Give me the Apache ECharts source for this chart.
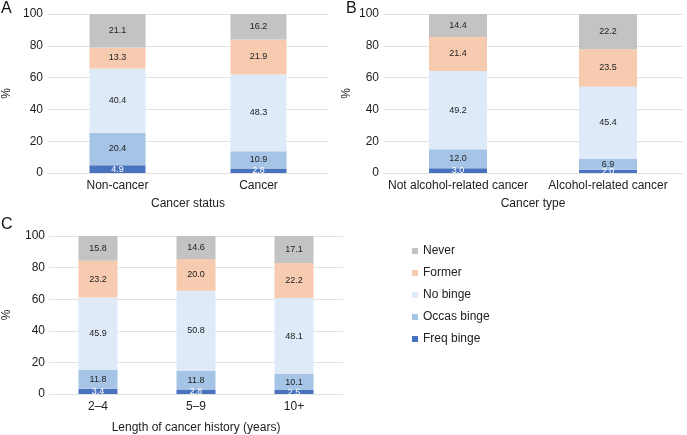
<!DOCTYPE html>
<html>
<head>
<meta charset="utf-8">
<script src="https://cdn.jsdelivr.net/npm/echarts@6/dist/echarts.min.js"></script>
<style>
html,body{margin:0;padding:0;background:#fff;}
#chart{width:687px;height:435px;}
</style>
</head>
<body>
<div id="chart"></div>
<script>
// categories per panel
var catsA = ['Non-cancer', 'Cancer'];
var catsB = ['Not alcohol-related cancer', 'Alcohol-related cancer'];
var catsC = ['2–4', '5–9', '10+'];
var yTicks = [0, 20, 40, 60, 80, 100];

var seriesNames = ['Freq binge', 'Occas binge', 'No binge', 'Former', 'Never'];
var seriesColors = ['#4a73bf', '#a6c4e5', '#deeaf8', '#f6cbb0', '#c3c3c3'];

// values (%), one array per drinking group, per panel
var freqA = [4.9, 2.8];
var occasA = [20.4, 10.9];
var noBingeA = [40.4, 48.3];
var formerA = [13.3, 21.9];
var neverA = [21.1, 16.2];

var freqB = [3.0, 2.0];
var occasB = [12.0, 6.9];
var noBingeB = [49.2, 45.4];
var formerB = [21.4, 23.5];
var neverB = [14.4, 22.2];

var freqC = [3.4, 2.8, 2.5];
var occasC = [11.8, 11.8, 10.1];
var noBingeC = [45.9, 50.8, 48.1];
var formerC = [23.2, 20.0, 22.2];
var neverC = [15.8, 14.6, 17.1];

var fontFam = 'Helvetica, Arial, "Liberation Sans", sans-serif';
var myChart = echarts.init(document.getElementById('chart'));

function xAx(idx, cats, name, gap){
    return {
        type: 'category', gridIndex: idx, data: cats,
        axisLine: {show: false}, axisTick: {show: false},
        axisLabel: {color: '#222', fontSize: 12, margin: 7, fontFamily: fontFam, interval: 0},
        name: name, nameLocation: 'middle', nameGap: gap,
        nameTextStyle: {color: '#222', fontSize: 12, fontFamily: fontFam}
    };
}
function yAx(idx, gap){
    return {
        type: 'value', gridIndex: idx, min: yTicks[0], max: yTicks[yTicks.length - 1], interval: 20,
        axisLine: {show: false}, axisTick: {show: false},
        axisLabel: {color: '#222', fontSize: 12, margin: 4, fontFamily: fontFam},
        splitLine: {lineStyle: {color: '#e2e2e2', width: 1}},
        name: '%', nameLocation: 'middle', nameGap: gap, nameRotate: 90,
        nameTextStyle: {color: '#222', fontSize: 12, fontFamily: fontFam}
    };
}

var panelData = [
    [freqA, occasA, noBingeA, formerA, neverA],
    [freqB, occasB, noBingeB, formerB, neverB],
    [freqC, occasC, noBingeC, formerC, neverC]
];
var barWidths = [56, 58, 39];

var series = [];
panelData.forEach(function(groups, p){
    groups.forEach(function(vals, i){
        series.push({
            name: seriesNames[i], type: 'bar', stack: 'p' + p,
            xAxisIndex: p, yAxisIndex: p, barWidth: barWidths[p],
            itemStyle: {color: seriesColors[i]},
            label: {
                show: true, position: 'inside', fontSize: 9, fontFamily: fontFam,
                color: i === 0 ? '#fff' : '#222',
                formatter: function(prm){ return prm.value.toFixed(1); }
            },
            data: vals
        });
    });
});

var letterStyle = {fontSize: 16, fontWeight: 'normal', color: '#111', fontFamily: fontFam};
var option = {
    animation: false,
    backgroundColor: '#fff',
    title: [
        {text: 'A', left: 1, top: 1, padding: 0, textStyle: letterStyle},
        {text: 'B', left: 346, top: 1, padding: 0, textStyle: letterStyle},
        {text: 'C', left: 1, top: 217, padding: 0, textStyle: letterStyle}
    ],
    legend: {
        data: seriesNames.slice().reverse(),
        orient: 'vertical', left: 407, top: 240,
        itemWidth: 6, itemHeight: 6, itemGap: 10,
        icon: 'rect',
        textStyle: {color: '#222', fontSize: 12, fontFamily: fontFam}
    },
    grid: [
        {left: 43, right: 358, top: 14, bottom: 262},
        {left: 383, right: 4, top: 14, bottom: 262},
        {left: 46, right: 344, top: 236, bottom: 41}
    ],
    xAxis: [
        xAx(0, catsA, 'Cancer status', 25),
        xAx(1, catsB, 'Cancer type', 25),
        xAx(2, catsC, 'Length of cancer history (years)', 28)
    ],
    yAxis: [yAx(0, 34), yAx(1, 30), yAx(2, 36)],
    series: series
};
myChart.setOption(option);
</script>
</body>
</html>
